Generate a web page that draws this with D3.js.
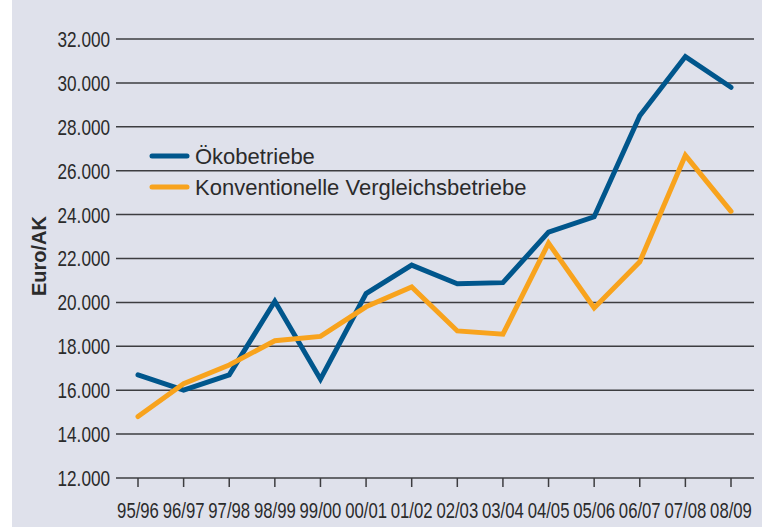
<!DOCTYPE html>
<html>
<head>
<meta charset="utf-8">
<script src="https://cdn.jsdelivr.net/npm/d3@7"></script>
<style>
  body { margin: 0; background: #fff; }
  svg text { fill: #2b2b2b; }
  .tick-label { font-family: "Liberation Sans", Arial, sans-serif; font-size: 22px; }
  .legend text { font-family: "Liberation Sans", Arial, sans-serif; font-size: 22px; }
  .y.label { font-family: "Liberation Sans", Arial, sans-serif; font-size: 20px; font-weight: bold; }
</style>
</head>
<body>
<svg width="762" height="529"></svg>
<script>
var years = ["95/96", "96/97", "97/98", "98/99", "99/00", "00/01", "01/02", "02/03", "03/04", "04/05", "05/06", "06/07", "07/08", "08/09"];
var oeko = [16700, 16000, 16700, 20050, 16500, 20400, 21700, 20850, 20900, 23200, 23900, 28500, 31200, 29800];
var konv = [14800, 16300, 17150, 18250, 18450, 19800, 20700, 18700, 18550, 22700, 19750, 21850, 26700, 24150];
var yTicks = [12000, 14000, 16000, 18000, 20000, 22000, 24000, 26000, 28000, 30000, 32000];
var seriesNames = ["Ökobetriebe", "Konventionelle Vergleichsbetriebe"];
var seriesColors = ["#00568c", "#f8a31d"];

var svg = d3.select("svg");

// background panel
svg.append("rect")
    .attr("x", 12).attr("y", 0)
    .attr("width", 750).attr("height", 527)
    .attr("fill", "#dfe1eb");

var x = d3.scalePoint()
    .domain(years)
    .range([138, 731]);

var y = d3.scaleLinear()
    .domain([12000, 32000])
    .range([478, 39]);

var fmt = function (d) { return d3.format(",")(d).replace(",", "."); };
var squeeze = 0.78; // condensed look from the regular face

// gridlines + y labels
var grid = svg.append("g");
grid.selectAll("line")
  .data(yTicks)
  .enter().append("line")
    .attr("x1", 116).attr("x2", 754)
    .attr("y1", function (d) { return y(d); })
    .attr("y2", function (d) { return y(d); })
    .attr("stroke", "#3d3d40")
    .attr("stroke-width", 1.5);

grid.selectAll("text")
  .data(yTicks)
  .enter().append("text")
    .attr("class", "tick-label")
    .attr("transform", function (d) { return "translate(110," + y(d) + ") scale(" + squeeze + ",1)"; })
    .attr("dy", "0.36em")
    .attr("text-anchor", "end")
    .text(fmt);

// x ticks
var xa = svg.append("g");
xa.selectAll("line")
  .data(years)
  .enter().append("line")
    .attr("x1", function (d) { return x(d); })
    .attr("x2", function (d) { return x(d); })
    .attr("y1", y(12000)).attr("y2", y(12000) + 9)
    .attr("stroke", "#3d3d40")
    .attr("stroke-width", 1.5);

xa.selectAll("text")
  .data(years)
  .enter().append("text")
    .attr("class", "tick-label")
    .attr("transform", function (d) { return "translate(" + x(d) + ",518) scale(" + (squeeze - 0.02) + ",1)"; })
    .attr("text-anchor", "middle")
    .text(function (d) { return d; });

// y axis title
svg.append("text")
    .attr("class", "y label")
    .attr("text-anchor", "middle")
    .attr("transform", "translate(46,256) rotate(-90)")
    .text("Euro/AK");

// lines
var line = d3.line()
    .x(function (d, i) { return x(years[i]); })
    .y(function (d) { return y(d); });

[oeko, konv].forEach(function (s, i) {
  svg.append("path")
      .datum(s)
      .attr("fill", "none")
      .attr("stroke", seriesColors[i])
      .attr("stroke-width", 5)
      .attr("stroke-linejoin", "miter")
      .attr("stroke-linecap", "round")
      .attr("d", line);
});

// legend
var legend = svg.append("g").attr("class", "legend");
var item = legend.selectAll("g")
  .data(seriesNames)
  .enter().append("g")
    .attr("transform", function (d, i) { return "translate(150," + (156 + i * 31) + ")"; });

item.append("line")
    .attr("x1", 2).attr("x2", 37)
    .attr("stroke", function (d, i) { return seriesColors[i]; })
    .attr("stroke-width", 5)
    .attr("stroke-linecap", "round");

item.append("text")
    .attr("x", 45)
    .attr("dy", "0.36em")
    .text(function (d) { return d; });
</script>
</body>
</html>
